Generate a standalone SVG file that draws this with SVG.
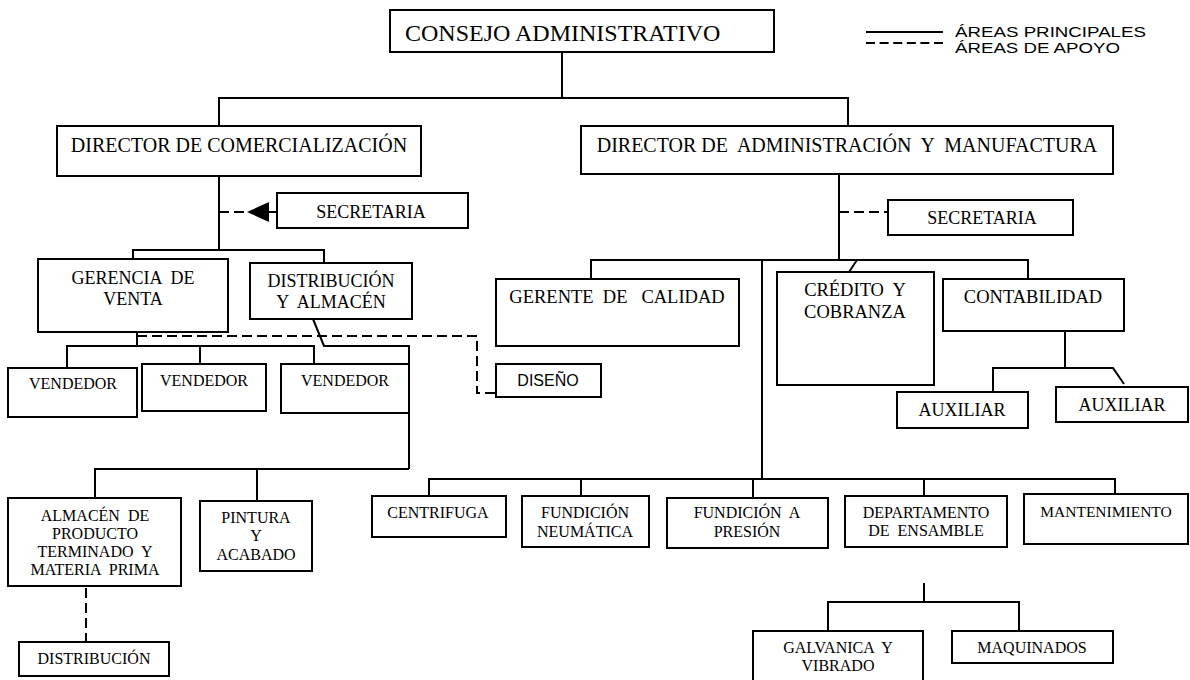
<svg xmlns="http://www.w3.org/2000/svg" width="1190" height="680" viewBox="0 0 1190 680">
<style>
.box{fill:#fff;stroke:#000;stroke-width:2}
.ln{fill:none;stroke:#000;stroke-width:2}
.dash{fill:none;stroke:#000;stroke-width:2;stroke-dasharray:10 5}
.t{font-family:"Liberation Serif","Times New Roman",serif;fill:#000;text-anchor:middle;white-space:pre}
.sans{font-family:"Liberation Sans",Arial,sans-serif;fill:#000;white-space:pre}
.f24{font-size:24px}.f20{font-size:20px}.f18{font-size:18px}.f185{font-size:18.5px}.f16{font-size:16px}.f155{font-size:15.5px}
</style>
<rect width="1190" height="680" fill="#fff"/>
<g id="connectors">
<path class="ln" d="M562,52 V98 M219,126 V98 H848 V126"/>
<path class="ln" d="M219,176 V250 M133,259 V250 H324 V263"/>
<path class="ln" d="M137,332 V346 M67,368 V346 H314 V364 M200,346 V364"/>
<path class="ln" d="M313,319 L324,346 H409 V469 M95,498 V469 H409 M257,469 V501"/>
<path class="ln" d="M839,174 V260 M591,279 V260 H1028 V279 M857,260 L849,272 M762,260 V479"/>
<path class="ln" d="M429,496 V479 H1115 V494 M581,479 V496 M753,479 V498 M924,479 V496"/>
<path class="ln" d="M924,583 V602 M828,631 V602 H1019 V631"/>
<path class="ln" d="M1065,331 V368 M993,392 V368 H1113 L1124,384"/>
<path class="dash" d="M219,212 H247"/>
<polygon points="247,212 269,202 269,222" fill="#000"/>
<path class="ln" d="M269,212 H277"/>
<path class="dash" d="M839,212 H888"/>
<path class="dash" d="M137,336 H477 V393 H496"/>
<path class="dash" d="M86,588 V642"/>
</g>
<g id="legend">
<path class="ln" d="M866,32 H943"/>
<path class="ln" d="M866,43 H943" stroke-dasharray="9 4.6"/>
<text class="sans" x="955" y="37" font-size="15.5" textLength="191" lengthAdjust="spacingAndGlyphs">ÁREAS PRINCIPALES</text>
<text class="sans" x="955" y="53" font-size="15.5" textLength="165" lengthAdjust="spacingAndGlyphs">ÁREAS DE APOYO</text>
</g>
<g id="consejo"><rect class="box" x="390" y="10" width="384" height="42"/><text class="t f24" x="405" y="41" style="text-anchor:start">CONSEJO ADMINISTRATIVO</text></g>
<g id="dir-comercializacion"><rect class="box" x="57" y="126" width="364" height="50"/><text class="t f20" x="239" y="152">DIRECTOR DE COMERCIALIZACIÓN</text></g>
<g id="dir-administracion"><rect class="box" x="581" y="126" width="532" height="48"/><text class="t f20" x="847" y="152" xml:space="preserve">DIRECTOR DE  ADMINISTRACIÓN  Y  MANUFACTURA</text></g>
<g id="secretaria-1"><rect class="box" x="277" y="193" width="191" height="35"/><text class="t f18" x="371" y="218">SECRETARIA</text></g>
<g id="secretaria-2"><rect class="box" x="888" y="200" width="185" height="35"/><text class="t f18" x="982" y="224">SECRETARIA</text></g>
<g id="gerencia-venta"><rect class="box" x="38" y="259" width="190" height="73"/><text class="t f18" x="133" y="284" xml:space="preserve">GERENCIA  DE</text><text class="t f18" x="133" y="305">VENTA</text></g>
<g id="distribucion-almacen"><rect class="box" x="250" y="263" width="162" height="56"/><text class="t f18" x="331" y="287">DISTRIBUCIÓN</text><text class="t f18" x="331" y="308" xml:space="preserve">Y  ALMACÉN</text></g>
<g id="vendedor-1"><rect class="box" x="8" y="368" width="129" height="49"/><text class="t f16" x="73" y="389">VENDEDOR</text></g>
<g id="vendedor-2"><rect class="box" x="142" y="364" width="124" height="47"/><text class="t f16" x="204" y="386">VENDEDOR</text></g>
<g id="vendedor-3"><rect class="box" x="281" y="364" width="128" height="49"/><text class="t f16" x="345" y="386">VENDEDOR</text></g>
<g id="diseno"><rect class="box" x="496" y="364" width="105" height="33"/><text class="sans" x="548" y="386" font-size="16" text-anchor="middle">DISEÑO</text></g>
<g id="gerente-calidad"><rect class="box" x="496" y="279" width="243" height="67"/><text class="t f185" x="617" y="303" xml:space="preserve">GERENTE  DE   CALIDAD</text></g>
<g id="credito-cobranza"><rect class="box" x="777" y="272" width="157" height="113"/><text class="t f185" x="855" y="296" xml:space="preserve">CRÉDITO  Y</text><text class="t f185" x="855" y="318">COBRANZA</text></g>
<g id="contabilidad"><rect class="box" x="943" y="279" width="181" height="52"/><text class="t f185" x="1033" y="303">CONTABILIDAD</text></g>
<g id="auxiliar-1"><rect class="box" x="897" y="392" width="131" height="36"/><text class="t f18" x="962" y="416">AUXILIAR</text></g>
<g id="auxiliar-2"><rect class="box" x="1056" y="387" width="132" height="35"/><text class="t f18" x="1122" y="411">AUXILIAR</text></g>
<g id="almacen-producto"><rect class="box" x="8" y="498" width="173" height="88"/><text class="t f16" x="95" y="521" xml:space="preserve">ALMACÉN  DE</text><text class="t f16" x="95" y="539">PRODUCTO</text><text class="t f16" x="95" y="557" xml:space="preserve">TERMINADO  Y</text><text class="t f16" x="95" y="575" xml:space="preserve">MATERIA  PRIMA</text></g>
<g id="pintura-acabado"><rect class="box" x="200" y="501" width="112" height="70"/><text class="t f16" x="256" y="523">PINTURA</text><text class="t f16" x="256" y="541">Y</text><text class="t f16" x="256" y="560">ACABADO</text></g>
<g id="distribucion"><rect class="box" x="19" y="642" width="150" height="34"/><text class="t f16" x="94" y="664">DISTRIBUCIÓN</text></g>
<g id="centrifuga"><rect class="box" x="372" y="496" width="134" height="41"/><text class="t f16" x="438" y="518">CENTRIFUGA</text></g>
<g id="fundicion-neumatica"><rect class="box" x="522" y="496" width="127" height="51"/><text class="t f16" x="585" y="518">FUNDICIÓN</text><text class="t f16" x="585" y="537">NEUMÁTICA</text></g>
<g id="fundicion-presion"><rect class="box" x="667" y="498" width="161" height="50"/><text class="t f16" x="747" y="518" xml:space="preserve">FUNDICIÓN  A</text><text class="t f16" x="747" y="537">PRESIÓN</text></g>
<g id="departamento-ensamble"><rect class="box" x="845" y="496" width="162" height="51"/><text class="t f16" x="926" y="518">DEPARTAMENTO</text><text class="t f16" x="926" y="536" xml:space="preserve">DE  ENSAMBLE</text></g>
<g id="mantenimiento"><rect class="box" x="1024" y="494" width="164" height="50"/><text class="t f155" x="1106" y="517">MANTENIMIENTO</text></g>
<g id="galvanica-vibrado"><rect class="box" x="753" y="631" width="170" height="60"/><text class="t f16" x="838" y="653" xml:space="preserve">GALVANICA  Y</text><text class="t f16" x="838" y="671">VIBRADO</text></g>
<g id="maquinados"><rect class="box" x="952" y="631" width="161" height="32"/><text class="t f16" x="1032" y="653">MAQUINADOS</text></g>
</svg>
